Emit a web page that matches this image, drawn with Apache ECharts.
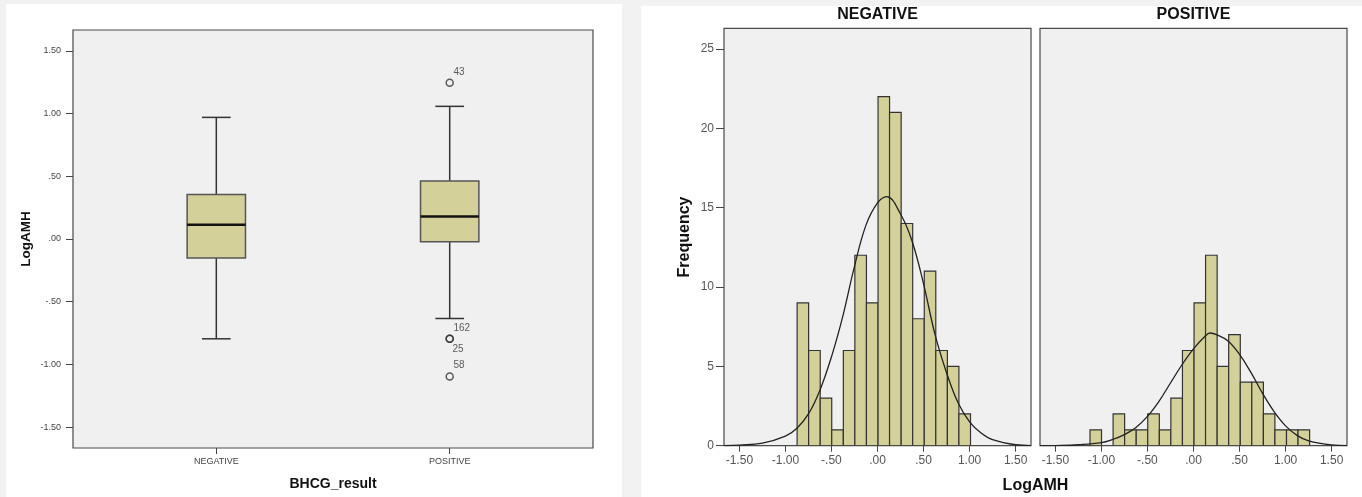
<!DOCTYPE html>
<html>
<head>
<meta charset="utf-8">
<script src="https://cdn.jsdelivr.net/npm/echarts@6/dist/echarts.min.js"></script>
<style>
  html, body { margin: 0; padding: 0; background: #f2f2f2; }
  #chart { width: 1362px; height: 497px; }
</style>
</head>
<body>
<div id="chart"></div>
<script>
// ---------- DATA ----------
const boxCategories = ['NEGATIVE', 'POSITIVE'];
const boxLow    = [-0.796, -0.634];
const boxQ1     = [-0.152, -0.022];
const boxMedian = [0.114, 0.180];
const boxQ3     = [0.354, 0.463];
const boxHigh   = [0.970, 1.058];

const outlierGroup = [1, 1, 1, 1];
const outlierValue = [1.247, -0.796, -0.796, -1.096];
const outlierCase  = ['43', '162', '25', '58'];

const boxTicks = [-1.5, -1.0, -0.5, 0, 0.5, 1.0, 1.5];

const binEdges = [-1.124, -0.999, -0.873, -0.748, -0.622, -0.497, -0.371, -0.246, -0.120, 0.006,
                  0.131, 0.257, 0.382, 0.508, 0.633, 0.759, 0.884, 1.010, 1.135, 1.261];
const negCounts = [0, 0, 9, 6, 3, 1, 6, 12, 9, 22, 21, 14, 8, 11, 6, 5, 2, 0, 0];
const posCounts = [1, 0, 2, 1, 1, 2, 1, 3, 6, 9, 12, 5, 7, 4, 4, 2, 1, 1, 1];

const histXTicks = [-1.5, -1.0, -0.5, 0, 0.5, 1.0, 1.5];
const freqTicks  = [0, 5, 10, 15, 20, 25];

const negCurveX = [-1.667, -1.5, -1.25, -1.0, -0.875, -0.75, -0.625, -0.5, -0.375, -0.25, -0.125, 0.0, 0.1, 0.25, 0.375, 0.5, 0.625, 0.75, 0.875, 1.0, 1.125, 1.25, 1.5, 1.667];
const negCurveY = [0.01, 0.04, 0.16, 0.6, 1.1, 2.0, 3.5, 5.6, 8.2, 11.3, 13.9, 15.3, 15.7, 14.6, 12.9, 10.2, 7.0, 4.6, 2.7, 1.5, 0.8, 0.38, 0.06, 0.01];
const posCurveX = [-1.667, -1.5, -1.25, -1.0, -0.875, -0.75, -0.625, -0.5, -0.375, -0.25, -0.125, 0.0, 0.125, 0.18, 0.25, 0.375, 0.5, 0.625, 0.75, 0.875, 1.0, 1.125, 1.25, 1.5, 1.667];
const posCurveY = [0.0, 0.01, 0.06, 0.19, 0.4, 0.7, 1.15, 1.85, 2.8, 3.95, 5.1, 6.1, 6.9, 7.1, 7.0, 6.6, 5.75, 4.6, 3.3, 2.15, 1.25, 0.65, 0.3, 0.05, 0.01];

// ---------- STYLE ----------
const FONT = '"Liberation Sans", Arial, sans-serif';
const FILL = '#d4d09a';
const EDGE = '#333333';
const PLOTBG = '#f0f0f0';
const FRAME = '#4a4a4a';

function spss(v) {
  return v.toFixed(2).replace(/^(-?)0\./, '$1.');
}

// ---------- BUILD ----------
const boxData = boxCategories.map((c, i) => [i, boxLow[i], boxQ1[i], boxMedian[i], boxQ3[i], boxHigh[i]]);

const outlierData = outlierValue.map((v, i) => {
  const dupBefore = outlierValue.slice(0, i).some((w, j) => w === v && outlierGroup[j] === outlierGroup[i]);
  return {
    value: [outlierGroup[i], v, outlierCase[i]],
    label: { position: dupBefore ? [7, 14.5] : [8, -6.5] }
  };
});

function histData(counts) {
  const out = [];
  counts.forEach((c, i) => { if (c > 0) out.push([binEdges[i], binEdges[i + 1], c]); });
  return out;
}

function renderBar(params, api) {
  const p0 = api.coord([api.value(0), api.value(2)]);
  const p1 = api.coord([api.value(1), 0]);
  return {
    type: 'rect',
    shape: { x: p0[0], y: p0[1], width: p1[0] - p0[0], height: p1[1] - p0[1] },
    style: { fill: FILL, stroke: EDGE, lineWidth: 1.2 }
  };
}

function renderBox(params, api) {
  const x = api.value(0);
  const hw = 0.125, cw = 0.0615;
  const lo = api.coord([x, api.value(1)]);
  const q1 = api.coord([x, api.value(2)]);
  const md = api.coord([x, api.value(3)]);
  const q3 = api.coord([x, api.value(4)]);
  const hi = api.coord([x, api.value(5)]);
  const bl = api.coord([x - hw, 0])[0];
  const br = api.coord([x + hw, 0])[0];
  const cl = api.coord([x - cw, 0])[0];
  const cr = api.coord([x + cw, 0])[0];
  const ls = { stroke: '#333', lineWidth: 1.5 };
  return {
    type: 'group',
    children: [
      { type: 'line', shape: { x1: hi[0], y1: hi[1], x2: q3[0], y2: q3[1] }, style: ls },
      { type: 'line', shape: { x1: q1[0], y1: q1[1], x2: lo[0], y2: lo[1] }, style: ls },
      { type: 'line', shape: { x1: cl, y1: hi[1], x2: cr, y2: hi[1] }, style: ls },
      { type: 'line', shape: { x1: cl, y1: lo[1], x2: cr, y2: lo[1] }, style: ls },
      { type: 'rect', shape: { x: bl, y: q3[1], width: br - bl, height: q1[1] - q3[1] },
        style: { fill: FILL, stroke: '#555', lineWidth: 1.5 } },
      { type: 'line', shape: { x1: bl, y1: md[1], x2: br, y2: md[1] }, style: { stroke: '#111', lineWidth: 2.6 } }
    ]
  };
}

const smallLbl = { fontFamily: FONT, fontSize: 9, color: '#444' };
const histLbl = { fontFamily: FONT, fontSize: 12, color: '#555' };
const noLine = { show: false, onZero: false };

const option = {
  animation: false,
  backgroundColor: '#f2f2f2',
  graphic: [
    { type: 'rect', z: -10, shape: { x: 6, y: 4, width: 616, height: 493 }, style: { fill: '#ffffff' } },
    { type: 'rect', z: -10, shape: { x: 641, y: 6, width: 721, height: 491 }, style: { fill: '#ffffff' } },
    { type: 'text', x: 877.5, y: 15, style: { text: 'NEGATIVE', font: 'bold 16px ' + FONT, fill: '#111', align: 'center', verticalAlign: 'middle' } },
    { type: 'text', x: 1193.5, y: 15, style: { text: 'POSITIVE', font: 'bold 16px ' + FONT, fill: '#111', align: 'center', verticalAlign: 'middle' } },
    { type: 'text', x: 1035.5, y: 486, style: { text: 'LogAMH', font: 'bold 16px ' + FONT, fill: '#111', align: 'center', verticalAlign: 'middle' } }
  ],
  grid: [
    { left: 73, top: 30, width: 520, height: 418, show: true, backgroundColor: PLOTBG, borderColor: FRAME, borderWidth: 1.2 },
    { left: 724, top: 28.3, width: 307, height: 417.4, show: true, backgroundColor: PLOTBG, borderColor: FRAME, borderWidth: 1.2 },
    { left: 1040, top: 28.3, width: 307, height: 417.4, show: true, backgroundColor: PLOTBG, borderColor: FRAME, borderWidth: 1.2 }
  ],
  xAxis: [
    {
      gridIndex: 0, type: 'value', min: -0.614, max: 1.614, position: 'bottom',
      axisLine: noLine, splitLine: { show: false },
      axisTick: { show: true, length: 6, customValues: boxCategories.map((c, i) => i), lineStyle: { color: '#444' } },
      axisLabel: Object.assign({ margin: 9, customValues: boxCategories.map((c, i) => i), formatter: v => boxCategories[Math.round(v)] || '' }, smallLbl),
      name: 'BHCG_result', nameLocation: 'middle', nameGap: 29,
      nameTextStyle: { fontFamily: FONT, fontSize: 14, fontWeight: 'bold', color: '#111' }
    },
    {
      gridIndex: 1, type: 'value', min: -1.667, max: 1.667, position: 'bottom',
      axisLine: noLine, splitLine: { show: false },
      axisTick: { show: true, length: 6, customValues: histXTicks, lineStyle: { color: '#444' } },
      axisLabel: Object.assign({ margin: 9, customValues: histXTicks, formatter: spss }, histLbl)
    },
    {
      gridIndex: 2, type: 'value', min: -1.667, max: 1.667, position: 'bottom',
      axisLine: noLine, splitLine: { show: false },
      axisTick: { show: true, length: 6, customValues: histXTicks, lineStyle: { color: '#444' } },
      axisLabel: Object.assign({ margin: 9, customValues: histXTicks, formatter: spss }, histLbl)
    }
  ],
  yAxis: [
    {
      gridIndex: 0, type: 'value', min: -1.667, max: 1.667, position: 'left',
      axisLine: noLine, splitLine: { show: false },
      axisTick: { show: true, length: 7, customValues: boxTicks, lineStyle: { color: '#444' } },
      axisLabel: Object.assign({ margin: 12, customValues: boxTicks, formatter: spss }, smallLbl),
      name: 'LogAMH', nameLocation: 'middle', nameRotate: 90, nameGap: 40,
      nameTextStyle: { fontFamily: FONT, fontSize: 13.5, fontWeight: 'bold', color: '#111' }
    },
    {
      gridIndex: 1, type: 'value', min: 0, max: 26.3, position: 'left',
      axisLine: noLine, splitLine: { show: false },
      axisTick: { show: true, length: 8, customValues: freqTicks, lineStyle: { color: '#444' } },
      axisLabel: Object.assign({ margin: 10, customValues: freqTicks }, histLbl),
      name: 'Frequency', nameLocation: 'middle', nameRotate: 90, nameGap: 31,
      nameTextStyle: { fontFamily: FONT, fontSize: 16, fontWeight: 'bold', color: '#111' }
    },
    {
      gridIndex: 2, type: 'value', min: 0, max: 26.3, position: 'left',
      axisLine: noLine, splitLine: { show: false },
      axisTick: { show: false }, axisLabel: { show: false }
    }
  ],
  series: [
    {
      type: 'custom', xAxisIndex: 0, yAxisIndex: 0, renderItem: renderBox,
      encode: { x: 0, y: [1, 2, 3, 4, 5] }, data: boxData, clip: true
    },
    {
      type: 'scatter', xAxisIndex: 0, yAxisIndex: 0, data: outlierData,
      symbol: 'circle', symbolSize: 7,
      itemStyle: { color: 'rgba(0,0,0,0)', borderColor: '#333', borderWidth: 1.5 },
      label: { show: true, formatter: p => p.value[2], align: 'left', verticalAlign: 'middle', fontFamily: FONT, fontSize: 10, color: '#333' }
    },
    {
      type: 'custom', xAxisIndex: 1, yAxisIndex: 1, renderItem: renderBar,
      encode: { x: [0, 1], y: 2 }, data: histData(negCounts), clip: true
    },
    {
      type: 'custom', xAxisIndex: 2, yAxisIndex: 2, renderItem: renderBar,
      encode: { x: [0, 1], y: 2 }, data: histData(posCounts), clip: true
    },
    {
      type: 'line', xAxisIndex: 1, yAxisIndex: 1, data: negCurveX.map((x, i) => [x, negCurveY[i]]),
      symbol: 'none', smooth: 0.4, lineStyle: { color: '#222', width: 1.3 }, z: 5
    },
    {
      type: 'line', xAxisIndex: 2, yAxisIndex: 2, data: posCurveX.map((x, i) => [x, posCurveY[i]]),
      symbol: 'none', smooth: 0.4, lineStyle: { color: '#222', width: 1.3 }, z: 5
    }
  ]
};

const chart = echarts.init(document.getElementById('chart'), null, { renderer: 'canvas' });
chart.setOption(option);
</script>
</body>
</html>
